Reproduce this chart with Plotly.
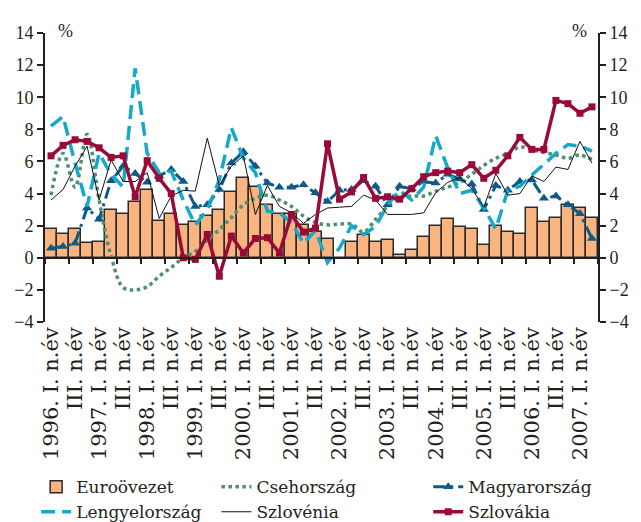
import plotly.graph_objects as go

quarters = [f"{y}. {q}. n.év" for y in range(1996, 2008) for q in ["I", "II", "III", "IV"]][:46]

tick_labels = []
for y in range(1996, 2008):
    tick_labels.append(f"{y}. I. n.év")
    if y < 2007:
        tick_labels.append("III. n.év")

euro = [1.8, 1.5, 1.8, 0.9, 1.0, 3.0, 2.7, 3.5, 4.25, 2.3, 2.7, 2.05, 2.2, 2.6, 3.0, 4.1, 5.0, 4.4, 3.3, 2.7,
        2.7, 2.05, 1.6, 1.2, 0.0, 1.0, 1.4, 1.0, 1.1, 0.2, 0.5, 1.3, 2.0, 2.4, 1.9, 1.8, 0.8, 2.0, 1.6, 1.5,
        3.1, 2.2, 2.5, 3.3, 3.1, 2.5]
cseh = [3.9, 6.5, 4.4, 7.7, 3.6, 0.1, -1.85, -2.0, -1.8, -1.15, -0.6, 0.0, 0.4, 1.1, 1.75, 2.5, 3.3, 3.7, 3.9, 3.6,
        3.2, 2.6, 2.2, 2.05, 2.1, 2.1, 1.6, 2.4, 3.2, 3.7, 3.85, 3.85, 4.15, 4.4, 4.7, 5.2, 5.75, 6.2, 6.5, 6.9,
        6.75, 6.55, 6.4, 6.2, 6.4, 6.1]
magyar = [0.6, 0.7, 0.9, 3.1, 2.4, 4.8, 5.7, 5.25, 4.7, 5.1, 5.5, 4.75, 3.2, 3.3, 4.25, 5.9, 6.6, 5.7, 4.65, 4.4,
          4.4, 4.55, 4.05, 3.5, 4.2, 4.25, 4.8, 4.45, 3.3, 4.45, 4.3, 4.75, 4.65, 5.2, 4.9, 4.6, 3.0, 4.5, 4.2, 4.75,
          4.85, 3.7, 3.85, 3.3, 2.75, 1.2]
lengyel = [8.2, 8.8, 5.9, 3.2, 6.5, 5.2, 4.4, 11.8, 6.5, 5.3, 5.4, 3.6, 2.05, 3.0, 4.85, 8.1, 6.2, 5.3, 2.9, 2.8,
           2.2, 0.9, 1.7, -0.3, 0.6, 2.0, 1.45, 1.95, 3.3, 4.2, 3.6, 4.4, 7.6, 5.6, 4.0, 4.2, 3.1, 1.8, 4.2, 4.45,
           5.15, 5.8, 6.5, 7.05, 6.95, 6.65]
szlovenia = [3.6, 4.25, 5.7, 6.95, 3.6, 6.1, 4.75, 4.75, 5.3, 2.45, 3.85, 4.2, 4.15, 7.45, 4.5, 5.7, 6.35, 2.7, 4.5, 3.2,
             2.8, 2.15, 2.7, 3.1, 3.15, 3.2, 3.9, 3.6, 2.7, 2.7, 2.7, 2.8, 4.05, 4.7, 5.0, 4.3, 3.15, 5.25, 3.9, 4.0,
             5.1, 4.75, 5.65, 5.5, 7.25, 5.9]
szlovakia = [6.35, 7.0, 7.35, 7.25, 6.85, 6.25, 6.35, 3.8, 6.05, 4.95, 4.0, 0.0, -0.1, 1.45, -1.15, 1.35, 0.3, 1.2, 1.25, 0.3,
             2.7, 1.6, 1.85, 7.1, 3.65, 4.1, 5.0, 3.7, 3.8, 3.65, 4.3, 5.05, 5.3, 5.4, 5.3, 5.8, 4.95, 5.45, 6.35, 7.5,
             6.75, 6.75, 9.8, 9.6, 9.0, 9.4]

FONT = "Liberation Serif"
WIDE = "DejaVu Serif"
TXT = "#231f20"

fig = go.Figure()
fig.add_trace(go.Bar(x=quarters, y=euro, name="Euroövezet", legend="legend", legendgroup="a",
                     marker=dict(color="#f9b47f", line=dict(color="#2b2b2b", width=1.5))))
fig.add_trace(go.Scatter(x=quarters, y=cseh, name="Csehország", mode="lines", legend="legend2", legendgroup="b",
                         line=dict(color="#4e8f6c", width=3.5, dash="dot", shape="spline", smoothing=1.0)))
fig.add_trace(go.Scatter(x=quarters, y=magyar, name="Magyarország", mode="lines+markers", legend="legend3",
                         legendgroup="c",
                         line=dict(color="#0d5a88", width=3, dash="12px,5px,3px,5px"),
                         marker=dict(symbol="triangle-up", size=9, color="#0d5a88")))
fig.add_trace(go.Scatter(x=quarters, y=lengyel, name="Lengyelország", mode="lines", legend="legend", legendgroup="d",
                         line=dict(color="#14a8cc", width=3.5, dash="14px,7px")))
fig.add_trace(go.Scatter(x=quarters, y=szlovenia, name="Szlovénia", mode="lines", legend="legend2", legendgroup="e",
                         line=dict(color="#111111", width=1)))
fig.add_trace(go.Scatter(x=quarters, y=szlovakia, name="Szlovákia", mode="lines+markers", legend="legend3",
                         legendgroup="f",
                         line=dict(color="#990a38", width=3.5),
                         marker=dict(symbol="square", size=7, color="#990a38")))
# carrier for the half-yearly tick-label axis (no visible marks)
fig.add_trace(go.Scatter(x=list(range(len(tick_labels))), y=[None] * len(tick_labels),
                         xaxis="x2", yaxis="y", mode="lines", showlegend=False, hoverinfo="skip"))
# carrier for the right-hand value axis (no visible marks)
fig.add_trace(go.Scatter(x=quarters, y=[None] * len(quarters), xaxis="x", yaxis="y2",
                         mode="lines", showlegend=False, hoverinfo="skip"))

yax = dict(range=[-4, 14], dtick=2, showgrid=False, zeroline=False, showline=True, linewidth=2,
           linecolor=TXT, ticks="outside", ticklen=6, tickwidth=2, tickcolor=TXT,
           tickfont=dict(family=FONT, size=18, color=TXT))

leg = dict(orientation="v", y=-0.509, xanchor="left", yanchor="top", tracegroupgap=0, itemwidth=30,
           font=dict(family=WIDE, size=17, color=TXT), bgcolor="rgba(0,0,0,0)")

fig.update_layout(
    width=641, height=522,
    margin=dict(l=45, r=43, t=33, b=200, autoexpand=False),
    paper_bgcolor="white", plot_bgcolor="white",
    bargap=0,
    showlegend=True,
    legend=dict(leg, x=-0.016),
    legend2=dict(leg, x=0.31),
    legend3=dict(leg, x=0.693),
    xaxis=dict(type="category", range=[-0.5, len(quarters) - 0.5], anchor="free", position=4 / 18,
               showline=True, linewidth=2, linecolor=TXT, ticks="outside", tickson="boundaries",
               ticklen=5, tickwidth=2, tickcolor=TXT, showticklabels=False, showgrid=False,
               zeroline=False),
    xaxis2=dict(overlaying="x", anchor="y", side="bottom",
                range=[-0.25, (len(quarters) - 0.5) / 2],
                tickmode="array", tickvals=list(range(len(tick_labels))), ticktext=tick_labels,
                tickangle=-90, showline=False, ticks="", showgrid=False, zeroline=False,
                tickfont=dict(family=WIDE, size=21, color=TXT)),
    yaxis=yax,
    yaxis2=dict(**yax, overlaying="y", side="right", anchor="x"),
    annotations=[
        dict(text="%", xref="paper", yref="paper", x=0.02, y=1.048, showarrow=False,
             font=dict(family=FONT, size=18, color=TXT)),
        dict(text="%", xref="paper", yref="paper", x=0.984, y=1.048, showarrow=False,
             font=dict(family=FONT, size=18, color=TXT)),
    ],
)

fig.write_html("out.html", config={"displayModeBar": False},
               post_script="document.body.style.margin='0px';")
